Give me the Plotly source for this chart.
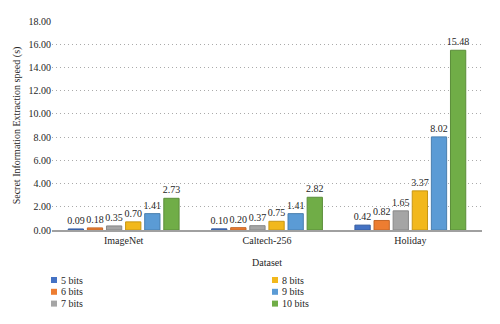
import plotly.graph_objects as go

categories = ["ImageNet", "Caltech-256", "Holiday"]
series_names = ["5 bits", "6 bits", "7 bits", "8 bits", "9 bits", "10 bits"]
v5 = [0.09, 0.10, 0.42]
v6 = [0.18, 0.20, 0.82]
v7 = [0.35, 0.37, 1.65]
v8 = [0.70, 0.75, 3.37]
v9 = [1.41, 1.41, 8.02]
v10 = [2.73, 2.82, 15.48]
values = [v5, v6, v7, v8, v9, v10]
colors = ["#4472C4", "#ED7D31", "#A5A5A5", "#F2B81C", "#5B9BD5", "#70AD47"]
tick_vals = [0, 2, 4, 6, 8, 10, 12, 14, 16, 18]
tick_text = [f"{v:.2f}" for v in tick_vals]

FONT = "Liberation Serif"
TXT = "#262626"

# plot-area geometry in pixels (used to place the custom legend)
L, R, T, B = 52, 18, 21, 94
W, H = 500, 324
PW, PH = W - L - R, H - T - B


def darken(hex_color, f=0.82):
    h = hex_color.lstrip("#")
    r, g, b = (int(h[i:i + 2], 16) for i in (0, 2, 4))
    return f"rgb({int(r * f)},{int(g * f)},{int(b * f)})"


def px_x(x):
    return (x - L) / PW


def px_y(y):
    return (H - B - y) / PH


fig = go.Figure()
for name, vals, col in zip(series_names, values, colors):
    fig.add_trace(go.Bar(
        x=categories, y=vals, name=name,
        marker=dict(color=col, line=dict(color=darken(col), width=1)),
        text=[f"{v:.2f}" for v in vals], textposition="outside",
        textfont=dict(family=FONT, size=10, color=TXT),
        constraintext="none", cliponaxis=False,
        showlegend=False,
    ))

# custom two-column legend (column-major order like the reference)
annotations, shapes = [], []
for i, (name, col) in enumerate(zip(series_names, colors)):
    colx = 0 if i < 3 else 1
    row = i % 3
    x0 = 51 if colx == 0 else 272
    yc = 280 + row * 11.8
    shapes.append(dict(
        type="rect", xref="paper", yref="paper",
        x0=px_x(x0), x1=px_x(x0 + 6), y0=px_y(yc + 3), y1=px_y(yc - 3),
        fillcolor=col, line=dict(width=0),
    ))
    annotations.append(dict(
        xref="paper", yref="paper",
        x=px_x(x0 + 8), y=px_y(yc),
        xanchor="left", yanchor="middle", showarrow=False,
        text=name,
        font=dict(family=FONT, size=10, color=TXT),
    ))

fig.update_layout(
    width=W, height=H,
    margin=dict(l=L, r=R, t=T, b=B),
    paper_bgcolor="white", plot_bgcolor="white",
    barmode="group", bargap=0.2, bargroupgap=0.2,
    font=dict(family=FONT, size=10, color=TXT),
    showlegend=False,
    annotations=annotations,
    shapes=shapes,
    xaxis=dict(showline=True, linecolor="#A0A0A0", linewidth=2, ticks="",
               tickfont=dict(family=FONT, size=10, color=TXT),
               title=dict(text="Dataset", font=dict(family=FONT, size=10, color=TXT), standoff=14)),
    yaxis=dict(range=[0, 18], tickvals=tick_vals, ticktext=tick_text,
               showgrid=True, gridcolor="#AAAAAA", griddash="1px,3px", gridwidth=1,
               zeroline=False, showline=False,
               tickfont=dict(family=FONT, size=10, color=TXT),
               title=dict(text="Secret Information Extraction speed (s)",
                          font=dict(family=FONT, size=10, color=TXT), standoff=6)),
)

fig.write_html("out.html")
